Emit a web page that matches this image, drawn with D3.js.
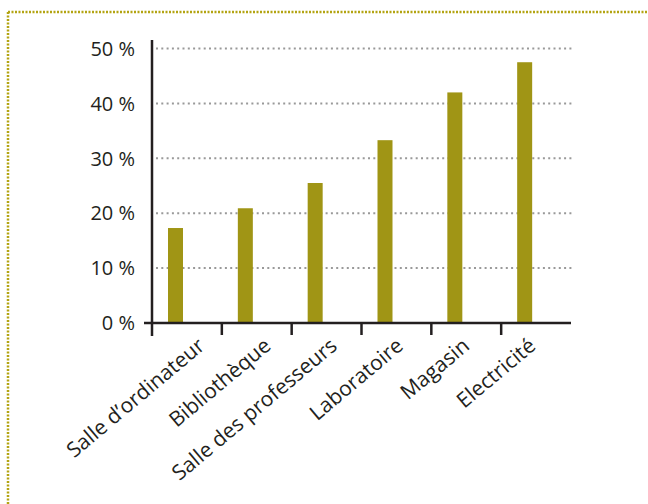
<!DOCTYPE html>
<html>
<head>
    <meta charset="UTF-8">
    <title>Salles</title>
    <script src="https://d3js.org/d3.v7.min.js"></script>
    <style>
        body { margin: 0; background: #fff; }
        text { font-family: "Open Sans", sans-serif; fill: #231f20; }
    </style>
</head>
<body>
    <div id="chart"></div>

    <script type="text/javascript">
        const categories = ["Salle d\u2019ordinateur", "Biblioth\u00e8que", "Salle des professeurs",
                            "Laboratoire", "Magasin", "Electricit\u00e9"];
        const values = [17.3, 20.9, 25.5, 33.3, 42.0, 47.5];
        const yTicks = [0, 10, 20, 30, 40, 50];

        const width = 648, height = 504;
        const axisColor = "#231f20";
        const barColor = "#a09515";
        const frameColor = "#b3a412";

        const svg = d3.select("#chart").append("svg")
            .attr("width", width)
            .attr("height", height)
            .style("display", "block");

        // dotted frame, top and left only
        svg.append("line")
            .attr("x1", 8).attr("x2", width).attr("y1", 12).attr("y2", 12)
            .attr("stroke", frameColor).attr("stroke-width", 2.5)
            .attr("stroke-dasharray", "2,1.5");
        svg.append("line")
            .attr("x1", 8).attr("x2", 8).attr("y1", 12).attr("y2", height)
            .attr("stroke", frameColor).attr("stroke-width", 2.5)
            .attr("stroke-dasharray", "2,1.5");

        const x = d3.scaleBand()
            .domain(categories)
            .range([152, 571]);

        const y = d3.scaleLinear()
            .domain([0, 50])
            .range([323, 48.5]);

        // gridlines
        svg.append("g").selectAll("line")
            .data(yTicks.filter(d => d > 0))
            .join("line")
            .attr("x1", 156).attr("x2", 573)
            .attr("y1", d => y(d)).attr("y2", d => y(d))
            .attr("stroke", "#999")
            .attr("stroke-width", 2)
            .attr("stroke-dasharray", "2,3.3");

        // bars
        svg.append("g").selectAll("rect")
            .data(values)
            .join("rect")
            .attr("x", (d, i) => x(categories[i]) + 16)
            .attr("width", 15)
            .attr("y", d => y(d))
            .attr("height", d => y(0) - y(d))
            .attr("fill", barColor);

        // y axis
        svg.append("line")
            .attr("x1", 152).attr("x2", 152).attr("y1", 40).attr("y2", 336)
            .attr("stroke", axisColor).attr("stroke-width", 2.5);

        svg.append("g").selectAll("text")
            .data(yTicks)
            .join("text")
            .attr("x", 135)
            .attr("y", d => y(d))
            .attr("dy", "0.36em")
            .attr("text-anchor", "end")
            .attr("font-size", 20)
            .text(d => d + " %");

        // x axis
        svg.append("line")
            .attr("x1", 144).attr("x2", 571).attr("y1", y(0)).attr("y2", y(0))
            .attr("stroke", axisColor).attr("stroke-width", 2.5);

        svg.append("g").selectAll("line")
            .data(categories.slice(1))
            .join("line")
            .attr("x1", d => x(d)).attr("x2", d => x(d))
            .attr("y1", y(0)).attr("y2", y(0) + 12)
            .attr("stroke", axisColor).attr("stroke-width", 2.5);

        // rotated category labels
        const labelX = d3.scalePoint()
            .domain(categories)
            .range([206, 537]);

        svg.append("g").selectAll("text")
            .data(categories)
            .join("text")
            .attr("transform", d => `translate(${labelX(d)},348) rotate(-40)`)
            .attr("text-anchor", "end")
            .attr("font-size", 21)
            .text(d => d);
    </script>
</body>
</html>
